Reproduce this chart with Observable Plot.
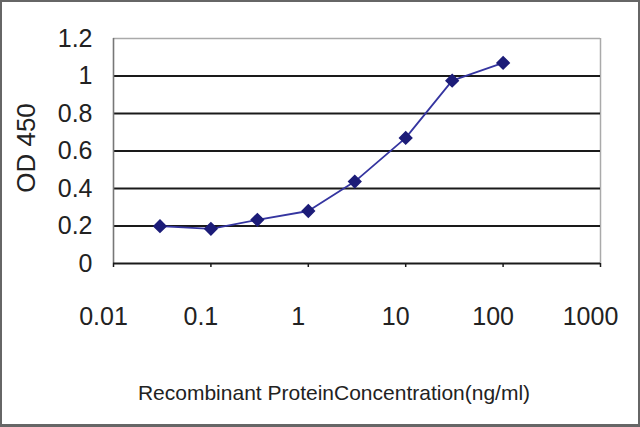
<!DOCTYPE html>
<html>
<head>
<meta charset="utf-8">
<script src="https://cdn.jsdelivr.net/npm/d3@7"></script>
<script src="https://cdn.jsdelivr.net/npm/@observablehq/plot@0.6"></script>
<style>
  html, body { margin: 0; padding: 0; background: #fff; }
  #wrap { position: relative; width: 640px; height: 427px; overflow: hidden; }
  #wrap::after { content: ""; position: absolute; left: 0; top: 0; right: 0; bottom: 0;
    border: 2px solid #666; border-bottom-width: 3px; pointer-events: none; }
  svg { display: block; }
</style>
</head>
<body>
<div id="wrap"></div>
<script>
const concentrations = [0.03, 0.1, 0.3, 1, 3, 10, 30, 100];
const od450 = [0.199, 0.185, 0.233, 0.28, 0.437, 0.67, 0.975, 1.07];
const xTicks = [0.01, 0.1, 1, 10, 100, 1000];
const xTickLabels = ["0.01", "0.1", "1", "10", "100", "1000"];
const yTicks = [0, 0.2, 0.4, 0.6, 0.8, 1, 1.2];
const yTickLabels = ["0", "0.2", "0.4", "0.6", "0.8", "1", "1.2"];
const yGrid = [0.2, 0.4, 0.6, 0.8, 1];
const xTitle = "Recombinant ProteinConcentration(ng/ml)";
const yTitle = "OD 450";

const data = concentrations.map((c, i) => ({c, v: od450[i]}));

const chart = Plot.plot({
  width: 640,
  height: 427,
  marginLeft: 113,
  marginRight: 40,
  marginTop: 38,
  marginBottom: 164,
  style: {fontFamily: "'Liberation Sans', Arial, sans-serif", background: "transparent"},
  x: {type: "log", domain: [0.01, 1000]},
  y: {domain: [0, 1.2]},
  marks: [
    Plot.ruleY([1.2], {stroke: "#aaa", strokeWidth: 1.5}),
    Plot.ruleX([1000], {stroke: "#aaa", strokeWidth: 1.5}),
    Plot.ruleY(yGrid, {stroke: "#1a1a1a", strokeWidth: 1.8}),
    Plot.ruleX([0.01], {stroke: "#777", strokeWidth: 1.6}),
    Plot.ruleY([0], {stroke: "#1a1a1a", strokeWidth: 1.8}),
    Plot.axisX(xTicks, {tickSize: 4, tickFormat: () => "", label: null, stroke: "#1a1a1a", strokeWidth: 1.5}),
    Plot.axisX(xTicks, {tickSize: 0, tickPadding: 44, dx: -10, label: null,
      tickFormat: (d, i) => xTickLabels[xTicks.indexOf(d)], fontSize: 25, fill: "#222"}),
    Plot.axisY(yTicks, {tickSize: 0, tickPadding: 21, label: null,
      tickFormat: (d) => yTickLabels[yTicks.indexOf(d)], fontSize: 25, fill: "#222"}),
    Plot.text([yTitle], {frameAnchor: "left", text: d => d, rotate: -90, dx: -87, dy: -3,
      fontSize: 26, fill: "#222", textAnchor: "middle"}),
    Plot.text([xTitle], {frameAnchor: "bottom", text: d => d, dx: -23, dy: 136,
      fontSize: 21, fill: "#222", textAnchor: "middle"}),
    Plot.line(data, {x: "c", y: "v", stroke: "#3535a0", strokeWidth: 1.8}),
    Plot.dot(data, {x: "c", y: "v", symbol: "diamond2", r: 5.5, fill: "#1c1c78", stroke: "#1c1c78"})
  ]
});
document.getElementById("wrap").appendChild(chart);
</script>
</body>
</html>
